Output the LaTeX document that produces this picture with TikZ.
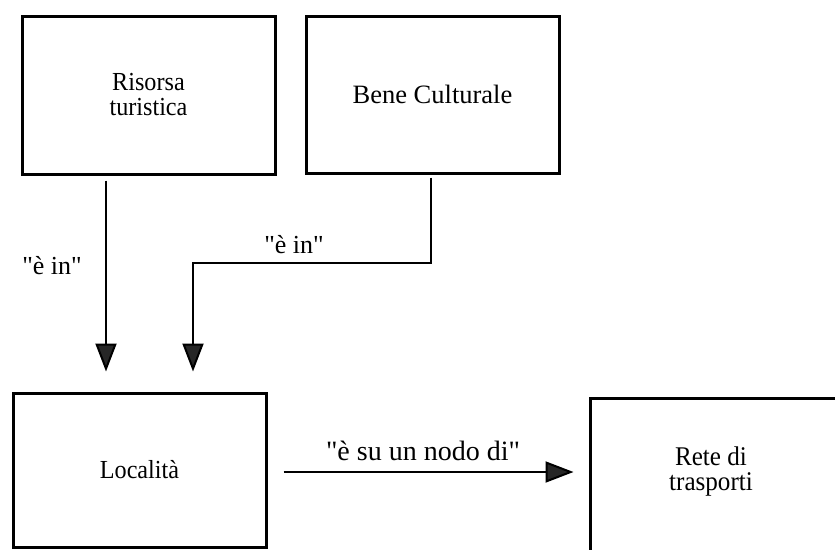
\documentclass[tikz,border=0pt]{standalone}
\usepackage{fontspec}
% plain families: no TeX ligature mapping, so " stays a straight quote
\newfontfamily\narrowfont{Liberation Serif}[FakeStretch=0.93]
\newfontfamily\widefont{Liberation Serif}
\usetikzlibrary{arrows.meta}
\definecolor{inkgray}{HTML}{262626}
\tikzset{
  entity/.style={draw=black, line width=3pt, fill=none, inner sep=0pt,
    align=center, font=\narrowfont\fontsize{26}{25}\selectfont},
  caption/.style={inner sep=0pt, align=center,
    font=\widefont\fontsize{26}{25}\selectfont},
  link/.style={draw=black, line width=2pt,
    -{Triangle[length=28pt,width=21pt,fill=inkgray]}},
}
\begin{document}
\begin{tikzpicture}[x=1pt, y=-1pt]
  \clip (0,0) rectangle (835,549);
  \fill[white] (0,0) rectangle (835,549);

  % entities
  \node[entity, minimum width=253pt, minimum height=158pt] (risorsa) at (148.5,95)
    {Risorsa\\turistica};
  \node[entity, minimum width=253pt, minimum height=157pt,
    font=\widefont\fontsize{26.5}{25}\selectfont] (bene) at (432.5,94.5)
    {Bene Culturale};
  \node[entity, minimum width=253pt, minimum height=154pt] (localita) at (139.5,470)
    {Località};
  \node[entity, minimum width=270pt, minimum height=170pt] (rete) at (725,483) {};
  \node[caption, font=\narrowfont\fontsize{27}{25}\selectfont] (retetext)
    at (711,471) {Rete di\\trasporti};

  % helper coordinates for the connector routes
  \coordinate (xa) at (106,0);
  \coordinate (xb) at (193,0);
  \coordinate (xc) at (431,0);
  \coordinate (yb) at (0,263);
  \coordinate (yc) at (0,472);

  % connectors
  \draw[link, shorten <=5pt, shorten >=20pt]
    (risorsa.south -| xa) -- (localita.north -| xa);
  \draw[link, shorten <=3pt, shorten >=20pt]
    (bene.south -| xc) |- (xb |- yb) -- (localita.north -| xb);
  \draw[link, shorten <=16pt, shorten >=15pt]
    (localita.east |- yc) -- (rete.west |- yc);

  % relation labels
  \node[caption] (lab1) at (52,266) {"è in"};
  \node[caption] (lab2) at (294,245) {"è in"};
  \node[caption, anchor=base, font=\widefont\fontsize{28}{25}\selectfont] (lab3)
    at (423,460) {"è su un nodo di"};
\end{tikzpicture}
\end{document}
